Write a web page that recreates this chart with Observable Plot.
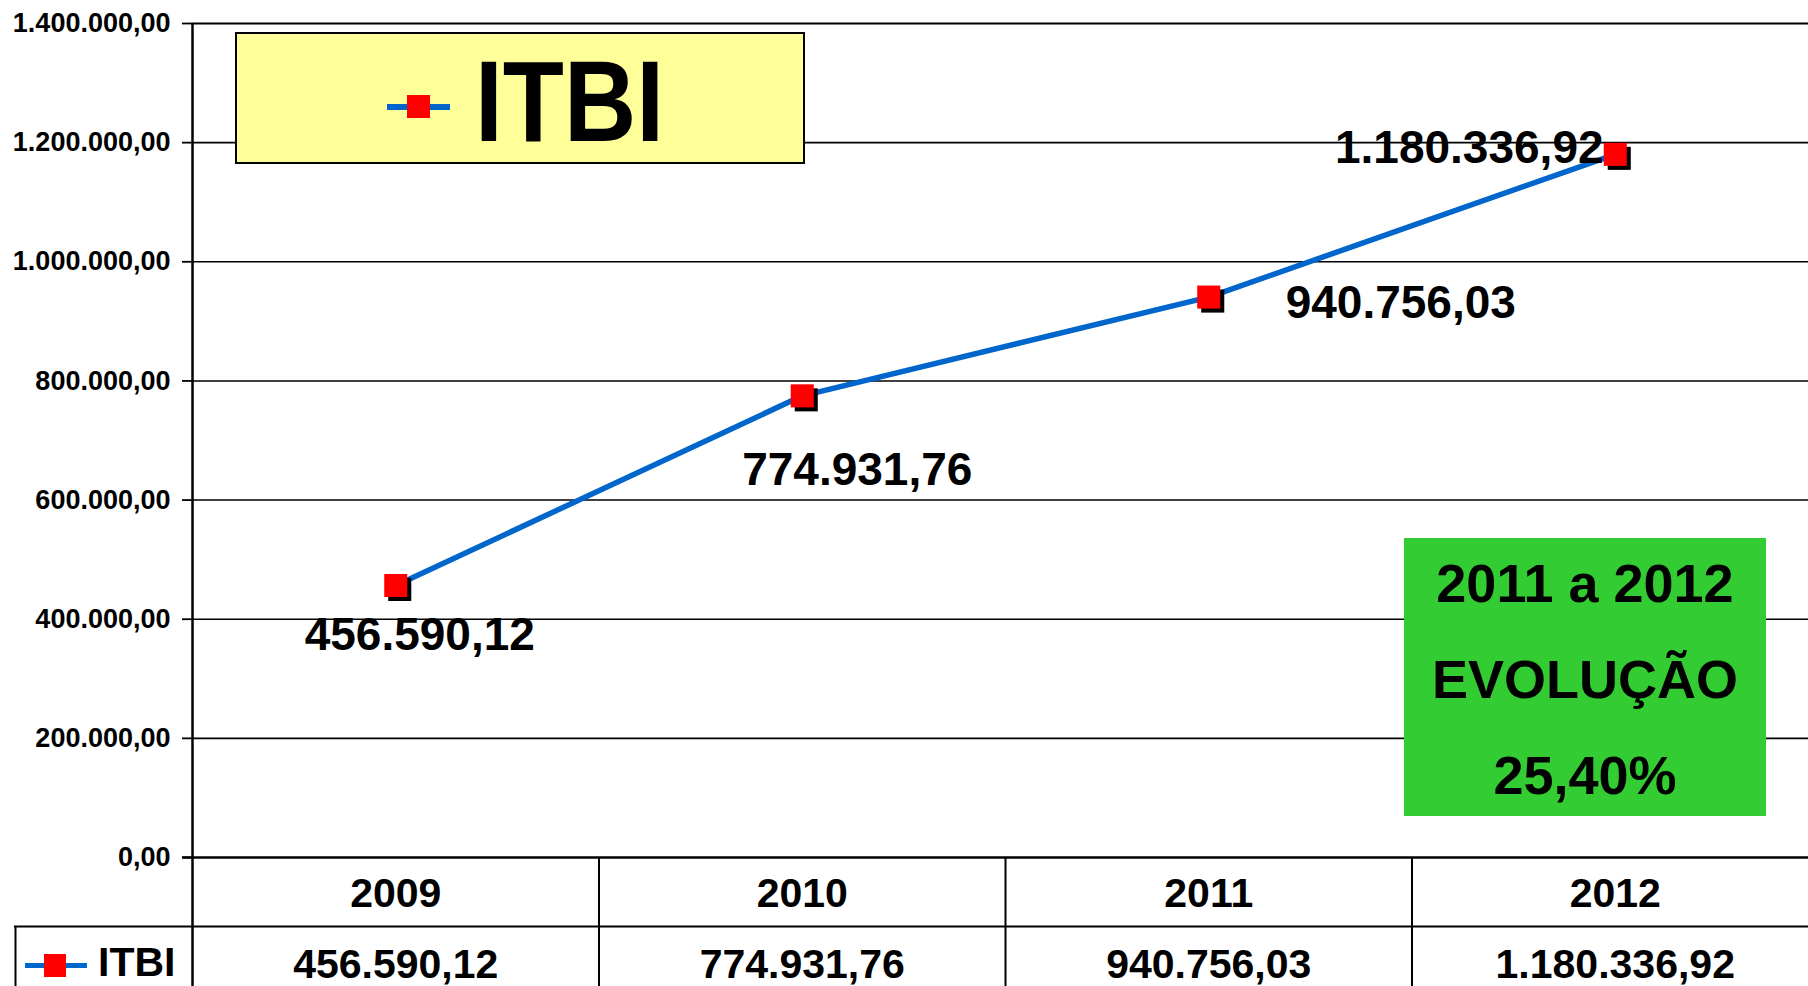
<!DOCTYPE html>
<html>
<head>
<meta charset="utf-8">
<script src="https://cdn.jsdelivr.net/npm/d3@7"></script>
<script src="https://cdn.jsdelivr.net/npm/@observablehq/plot@0.6"></script>
<style>
  html, body { margin: 0; padding: 0; background: #fff; }
  #wrap { position: relative; width: 1808px; height: 986px; overflow: hidden; font-family: "Liberation Sans", Arial, sans-serif; }
  #wrap svg { display: block; }
  .legendBox { position: absolute; left: 235px; top: 32px; width: 566px; height: 128px; background: #FFFF99; border: 2px solid #000; }
  .legendBox .sw { position: absolute; left: 150px; top: 70px; width: 63px; height: 6px; background: #0066CC; }
  .legendBox .sq { position: absolute; left: 170px; top: 61px; width: 23px; height: 23px; background: #FF0000; }
  .legendBox .lab { position: absolute; left: 238px; top: 10px; font-size: 115px; font-weight: bold; line-height: 115px; color: #000; transform: scaleX(0.87); transform-origin: left top; }
  .evo { position: absolute; left: 1404px; top: 538px; width: 362px; height: 278px; background: #33CC33; text-align: center; font-weight: bold; font-size: 54px; line-height: 96px; color: #000; }
  .evo .t { position: relative; top: -3px; }
  .tblLegend { position: absolute; left: 14px; top: 926px; width: 177px; height: 60px; }
  .tblLegend .sw { position: absolute; left: 11px; top: 37px; width: 62px; height: 5px; background: #0066CC; }
  .tblLegend .sq { position: absolute; left: 30px; top: 28px; width: 22px; height: 23px; background: #FF0000; }
  .tblLegend .lab { position: absolute; left: 84px; top: 16px; font-size: 41px; font-weight: bold; line-height: 41px; color: #000; }
</style>
</head>
<body>
<div id="wrap"></div>
<script>
const years = [2009, 2010, 2011, 2012];
const values = [456590.12, 774931.76, 940756.03, 1180336.92];
const yTicks = [0, 200000, 400000, 600000, 800000, 1000000, 1200000, 1400000];
const seriesName = "ITBI";
const evolutionLines = ["2011 a 2012", "EVOLUÇÃO", "25,40%"];

const data = years.map((year, i) => ({year, value: values[i]}));
const bounds = [years[0] - 0.5, ...years.map(y => y + 0.5)];
const locale = d3.formatLocale({decimal: ",", thousands: ".", grouping: [3], currency: ["R$", ""]});
const fmt = locale.format(",.2f");

const W = 1808, H = 986, mL = 191, mT = 23, mB = 129;
const frameH = H - mT - mB;
const font = "'Liberation Sans', Arial, sans-serif";

const labelMark = (yr, dx, dy) => Plot.text(data, {
  filter: d => d.year === yr, x: "year", y: "value", text: d => fmt(d.value),
  dx, dy, fontSize: 46, fontWeight: "bold", fill: "#000", textAnchor: "middle", lineAnchor: "middle"
});

const chart = Plot.plot({
  width: W, height: H,
  marginLeft: mL, marginRight: 0, marginTop: mT, marginBottom: mB,
  style: {fontFamily: font, background: "#fff", color: "#000", overflow: "visible"},
  x: {type: "linear", domain: [bounds[0], bounds[bounds.length - 1]], range: [192, 1818]},
  y: {domain: [0, 1400000]},
  marks: [
    Plot.ruleY(yTicks.slice(1, -1), {stroke: "#000", strokeWidth: 1.6}),
    Plot.ruleY(yTicks.slice(-1), {stroke: "#000", strokeWidth: 2.2}),
    Plot.axisY(yTicks, {tickFormat: fmt, fontSize: 27, fontWeight: "bold", tickSize: 9, tickPadding: 12, strokeWidth: 1.8, label: null}),
    // table lines
    Plot.ruleY([0], {stroke: "#000", strokeWidth: 2.5, insetLeft: -9}),
    Plot.ruleY([0], {stroke: "#000", strokeWidth: 2, dy: 69, insetLeft: -177}),
    Plot.ruleX([bounds[0]], {stroke: "#000", strokeWidth: 2.5, insetBottom: -mB}),
    Plot.ruleX(bounds.slice(1, -1), {stroke: "#000", strokeWidth: 2, insetTop: frameH, insetBottom: -mB}),
    Plot.ruleX([bounds[0]], {stroke: "#000", strokeWidth: 2, dx: -177, insetTop: frameH + 69, insetBottom: -mB}),
    Plot.axisX(years, {tickFormat: d => String(d), tickSize: 0, tickPadding: 20, fontSize: 41, fontWeight: "bold", label: null}),
    Plot.axisX(years, {tickFormat: d => fmt(values[years.indexOf(d)]), tickSize: 0, tickPadding: 91, fontSize: 41, fontWeight: "bold", label: null}),
    // series
    Plot.line(data, {x: "year", y: "value", stroke: "#0066CC", strokeWidth: 5.5}),
    Plot.dot(data, {x: "year", y: "value", symbol: "square", r: 13, fill: "#000", stroke: "none", dx: 4, dy: 4}),
    Plot.dot(data, {x: "year", y: "value", symbol: "square", r: 13, fill: "#FF0000", stroke: "none"}),
    labelMark(2009, 24, 50),
    labelMark(2010, 55, 74),
    labelMark(2011, 192, 6),
    labelMark(2012, -146, -6)
  ]
});

const wrap = document.getElementById("wrap");
wrap.appendChild(chart);

const lg = document.createElement("div");
lg.className = "legendBox";
lg.innerHTML = `<div class="sw"></div><div class="sq"></div><div class="lab">${seriesName}</div>`;
wrap.appendChild(lg);

const evo = document.createElement("div");
evo.className = "evo";
evo.innerHTML = evolutionLines.map(t => `<div class="t">${t}</div>`).join("");
wrap.appendChild(evo);

const tl = document.createElement("div");
tl.className = "tblLegend";
tl.innerHTML = `<div class="sw"></div><div class="sq"></div><div class="lab">${seriesName}</div>`;
wrap.appendChild(tl);
</script>
</body>
</html>
